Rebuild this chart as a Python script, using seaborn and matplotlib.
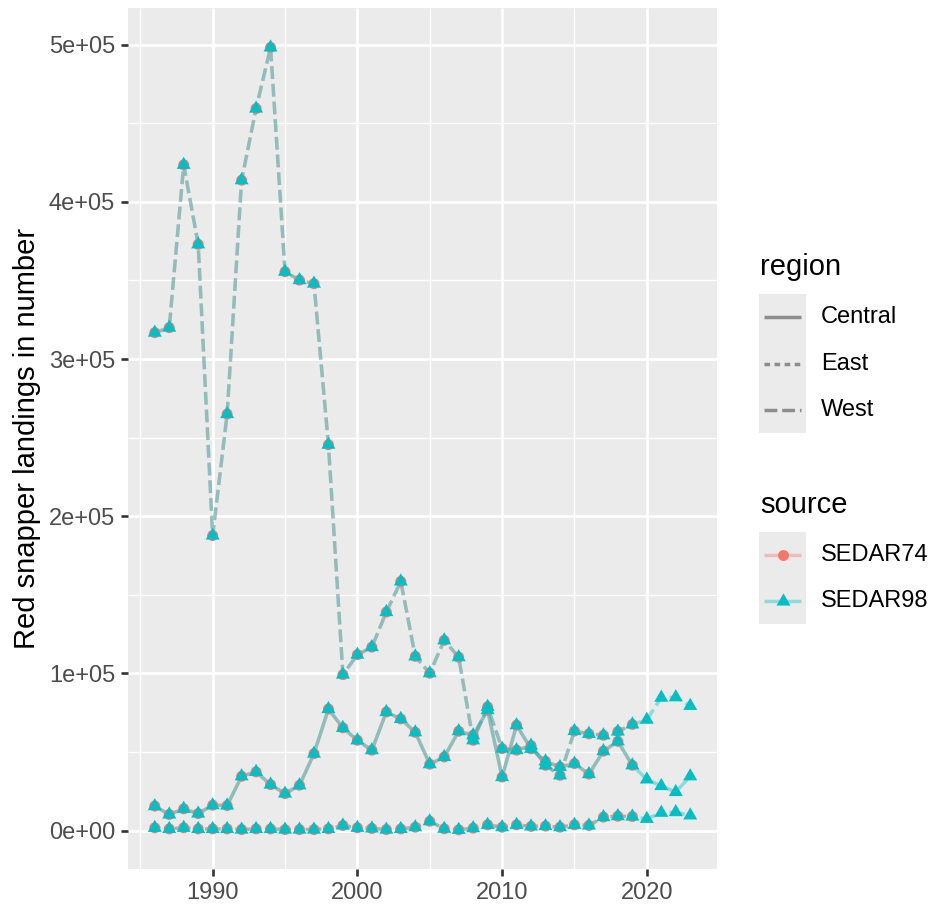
import numpy as np
import pandas as pd
import matplotlib
matplotlib.use("Agg")
import matplotlib.pyplot as plt
from matplotlib.lines import Line2D
from matplotlib.patches import Rectangle
from matplotlib.path import Path
from matplotlib.ticker import FixedLocator, FuncFormatter
import seaborn as sns

# ---------------- data ----------------
years = list(range(1986, 2024))          # SEDAR98 years
last_year_s74 = 2019                      # SEDAR74 ends here

central = [15500, 10200, 13800, 10800, 16100, 15900, 34500, 37300, 29200, 23500,
           28800, 48900, 77300, 65300, 57400, 51100, 75400, 71000, 62500, 42200,
           46800, 63200, 60600, 76600, 34000, 67000, 52000, 44000, 40400, 42600,
           35900, 50500, 56700, 41500, 32500, 28300, 24500, 34500]
east = [1700, 1000, 1700, 1000, 1000, 1000, 600, 1000, 1000, 600,
        600, 600, 1000, 3200, 1700, 1300, 600, 1000, 2100, 5900,
        1100, 400, 1500, 3600, 2100, 3600, 2600, 2800, 2100, 3600,
        3200, 8500, 9100, 8900, 7400, 11300, 11700, 9600]
west = [316800, 320000, 423600, 373000, 187700, 265000, 413800, 459400, 498300, 355600,
        350200, 348000, 245500, 99200, 111900, 116700, 139000, 158500, 110800, 100100,
        121000, 110300, 57400, 78700, 52100, 51100, 54000, 41500, 35100, 63300,
        61500, 60600, 63000, 67500, 70500, 84500, 84800, 79300]

sources = ["SEDAR74", "SEDAR98"]
regions = ["Central", "East", "West"]
source_colors = {"SEDAR74": "#F8766D", "SEDAR98": "#00BFC4"}

x_major = [1990, 2000, 2010, 2020]
x_minor = [1985, 1995, 2005, 2015]
y_major = [0, 100000, 200000, 300000, 400000, 500000]
y_minor = [50000, 150000, 250000, 350000, 450000]

rows = []
for src in sources:
    for reg, vals in zip(regions, [central, east, west]):
        for yr, v in zip(years, vals):
            if src == "SEDAR74" and yr > last_year_s74:
                continue
            rows.append({"year": yr, "value": v, "region": reg, "source": src})
df = pd.DataFrame(rows)

# equilateral triangle centred on its centroid (like R's pch 17)
tri = Path([(0, 1), (0.8660254, -0.5), (-0.8660254, -0.5), (0, 1)],
           [Path.MOVETO, Path.LINETO, Path.LINETO, Path.CLOSEPOLY])

# ---------------- figure ----------------
plt.rcParams["font.family"] = ["Liberation Sans", "DejaVu Sans"]
plt.rcParams["lines.solid_capstyle"] = "butt"
plt.rcParams["lines.dash_capstyle"] = "butt"

W, H = 936, 907
fig = plt.figure(figsize=(W / 100, H / 100), dpi=100)
p_left, p_right, p_top, p_bottom = 128, 717, 8.3, 869
ax = fig.add_axes([p_left / W, 1 - p_bottom / H, (p_right - p_left) / W, (p_bottom - p_top) / H])
ax.set_facecolor("#EBEBEB")
for s in ax.spines.values():
    s.set_visible(False)

sns.lineplot(data=df, x="year", y="value", hue="source", style="region",
             hue_order=sources, style_order=regions, palette=source_colors,
             dashes={"Central": "", "East": (1.6, 1.3), "West": (3.7, 1.4)},
             alpha=0.4, linewidth=2.5, estimator=None, errorbar=None,
             legend=False, ax=ax, zorder=2)

sns.scatterplot(data=df, x="year", y="value", hue="source", style="source",
                size="source", sizes={"SEDAR74": 62, "SEDAR98": 136},
                hue_order=sources, palette=source_colors,
                markers={"SEDAR74": "o", "SEDAR98": tri},
                linewidth=0, edgecolor="none", legend=False, ax=ax, zorder=3)

# ggplot-like expansion
xmin, xmax = df["year"].min(), df["year"].max()
ymin, ymax = df["value"].min(), df["value"].max()
ax.set_xlim(xmin - 0.05 * (xmax - xmin), xmax + 0.05 * (xmax - xmin))
ax.set_ylim(ymin - 0.05 * (ymax - ymin), ymax + 0.05 * (ymax - ymin))

ax.xaxis.set_major_locator(FixedLocator(x_major))
ax.xaxis.set_minor_locator(FixedLocator(x_minor))
ax.yaxis.set_major_locator(FixedLocator(y_major))
ax.yaxis.set_minor_locator(FixedLocator(y_minor))
ax.yaxis.set_major_formatter(FuncFormatter(lambda v, p: f"{v:.0e}"))
ax.xaxis.set_major_formatter(FuncFormatter(lambda v, p: f"{int(v)}"))

ax.grid(which="major", color="white", linewidth=1.9)
ax.grid(which="minor", color="white", linewidth=1.0)
ax.set_axisbelow(True)
ax.tick_params(which="major", length=5.3, width=1.9, color="#333333",
               labelsize=17, labelcolor="#4D4D4D", pad=4.0)
ax.tick_params(which="minor", length=0)
ax.set_xlabel("")
ax.set_ylabel("")

fig.text(27 / W, 1 - ((p_top + p_bottom) / 2) / H, "Red snapper landings in number",
         rotation=90, ha="center", va="center", fontsize=21, color="black")

# ---------------- legends (ggplot style) ----------------
def fx(px):
    return px / W

def fy(py):
    return 1 - py / H

key_l, key_r = 759, 806
line_l, line_r = 764, 801
label_x = 821
title_x = 760

# region legend
fig.text(fx(title_x), fy(267), "region", fontsize=21, ha="left", va="center")
fig.add_artist(Rectangle((fx(key_l), fy(433)), fx(key_r) - fx(key_l), fy(294) - fy(433),
                         transform=fig.transFigure, facecolor="#EBEBEB", edgecolor="none"))
reg_dash = {"Central": None, "East": (1.6, 1.3), "West": (3.7, 1.4)}
for reg, yc in zip(regions, [317, 364, 410]):
    ln = Line2D([fx(line_l), fx(line_r)], [fy(yc), fy(yc)], transform=fig.transFigure,
                color="black", alpha=0.4, linewidth=2.5)
    if reg_dash[reg] is not None:
        ln.set_dashes(reg_dash[reg])
    fig.add_artist(ln)
    fig.text(fx(label_x), fy(yc), reg, fontsize=17, ha="left", va="center")

# source legend
fig.text(fx(title_x), fy(505), "source", fontsize=21, ha="left", va="center")
fig.add_artist(Rectangle((fx(key_l), fy(624)), fx(key_r) - fx(key_l), fy(532) - fy(624),
                         transform=fig.transFigure, facecolor="#EBEBEB", edgecolor="none"))
src_marker = {"SEDAR74": ("o", 7.9), "SEDAR98": (tri, 11.7)}
for src, yc in zip(sources, [555, 601]):
    fig.add_artist(Line2D([fx(line_l), fx(line_r)], [fy(yc), fy(yc)], transform=fig.transFigure,
                          color=source_colors[src], alpha=0.4, linewidth=2.5))
    m, ms = src_marker[src]
    fig.add_artist(Line2D([fx((line_l + line_r) / 2)], [fy(yc)], transform=fig.transFigure,
                          marker=m, markersize=ms, color=source_colors[src],
                          markeredgewidth=0, linestyle="none"))
    fig.text(fx(label_x), fy(yc), src, fontsize=17, ha="left", va="center")

fig.savefig("out.png", dpi=100, facecolor="white")
